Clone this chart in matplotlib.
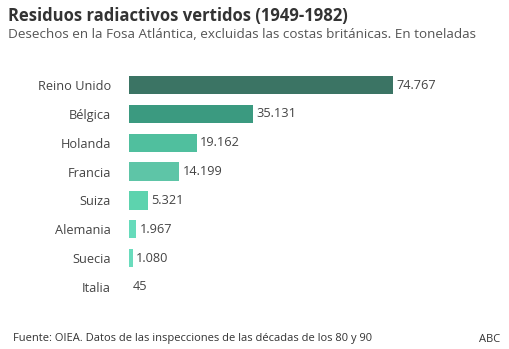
import matplotlib
matplotlib.use("Agg")
import matplotlib.pyplot as plt

countries = ["Reino Unido", "Bélgica", "Holanda", "Francia", "Suiza", "Alemania", "Suecia", "Italia"]
values = [74767, 35131, 19162, 14199, 5321, 1967, 1080, 45]
value_labels = ["74.767", "35.131", "19.162", "14.199", "5.321", "1.967", "1.080", "45"]
colors = ["#3b7464", "#3b9a80", "#50bf9e", "#5ec5a7", "#5dd3ae", "#66dbbb", "#6adcbd", "#6adcbd"]

title = "Residuos radiactivos vertidos (1949-1982)"
subtitle = "Desechos en la Fosa Atlántica, excluidas las costas británicas. En toneladas"
source = "Fuente: OIEA. Datos de las inspecciones de las décadas de los 80 y 90"
credit = "ABC"

plt.rcParams['font.family'] = ['Open Sans', 'DejaVu Sans']

W, H = 510, 349
fig = plt.figure(figsize=(W / 100, H / 100), dpi=100)
fig.patch.set_facecolor("white")

left_px, right_px = 129, 490
top_px, bot_px = 70.6, 301.4
ax = fig.add_axes([left_px / W, 1 - bot_px / H, (right_px - left_px) / W, (bot_px - top_px) / H])

y = list(range(len(countries)))
ax.barh(y, values, height=0.63, color=colors)
ax.set_ylim(len(countries) - 0.5, -0.5)
ax.set_xlim(0, max(values) * (right_px - left_px) / 264)
ax.set_yticks(y)
ax.set_yticklabels(countries, fontsize=9.2, color="#444444")
ax.tick_params(axis="y", length=0, pad=13)
ax.set_xticks([])
for s in ax.spines.values():
    s.set_visible(False)

for yi, v, lab in zip(y, values, value_labels):
    ax.annotate(lab, (v, yi), xytext=(2.5, 0), textcoords="offset points",
                va="center", ha="left", fontsize=9.2, color="#444444")

fig.text(8 / W, 1 - 16 / H, title, fontsize=12, fontweight="bold", color="#333333", va="center", ha="left")
fig.text(8 / W, 1 - 34 / H, subtitle, fontsize=9.7, color="#555555", va="center", ha="left")
fig.text(13 / W, 1 - 339 / H, source, fontsize=8, color="#333333", va="center", ha="left")
fig.text(500 / W, 1 - 339 / H, credit, fontsize=8, color="#333333", va="center", ha="right")

fig.savefig("out.png", dpi=100)
